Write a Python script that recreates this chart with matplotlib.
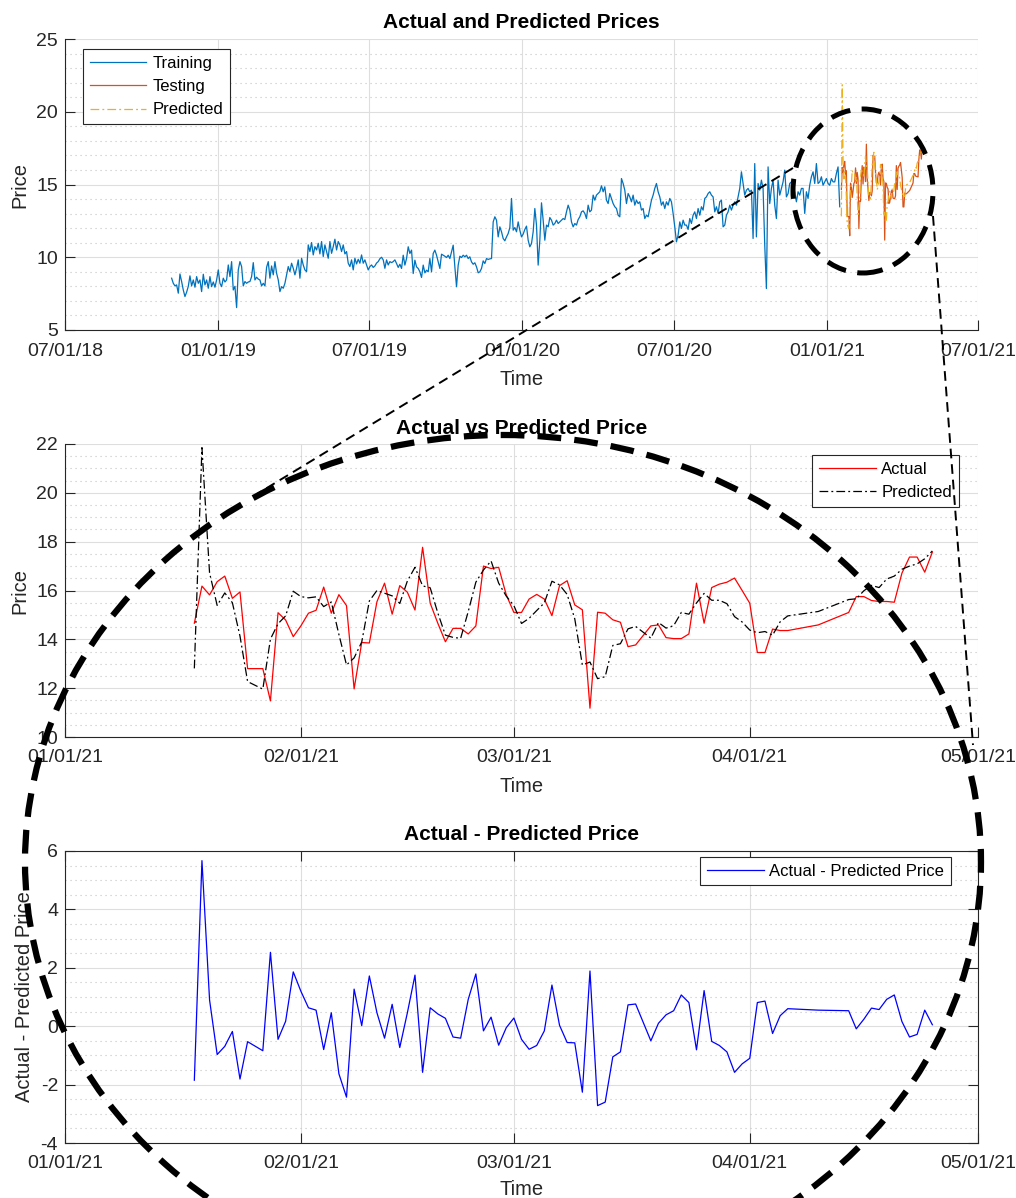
import numpy as np
import pandas as pd
import matplotlib
matplotlib.use('Agg')
import matplotlib.pyplot as plt
import matplotlib.dates as mdates
from matplotlib.patches import Ellipse
from matplotlib.lines import Line2D
from matplotlib.ticker import MultipleLocator

plt.rcParams['font.family'] = ['Liberation Sans', 'DejaVu Sans']
plt.rcParams['axes.unicode_minus'] = False

# ---- data ----
# training prices, one value every 2 days from train_start
train_start = '2018-11-06'
train_step = '2D'
train_price = [
    8.56, 8.21, 8.03, 8.10, 7.53, 8.85, 8.33, 7.75, 7.30, 7.60,
    8.00, 8.72, 8.03, 8.44, 7.94, 8.67, 8.21, 8.44, 7.64, 8.83,
    8.10, 8.44, 7.87, 8.67, 7.98, 8.30, 7.94, 8.44, 9.13, 8.21,
    7.98, 8.56, 8.30, 8.44, 9.47, 8.67, 9.70, 7.75, 8.00, 6.54,
    9.13, 9.70, 9.36, 8.03, 8.33, 8.21, 8.30, 8.33, 8.67, 9.63,
    8.44, 8.63, 8.50, 8.44, 8.03, 8.21, 8.03, 9.31, 9.70, 8.56,
    9.40, 8.79, 9.70, 8.90, 8.44, 7.64, 7.98, 7.87, 8.21, 8.79,
    9.36, 9.01, 9.59, 9.24, 8.79, 9.24, 9.82, 8.56, 9.93, 9.47,
    9.13, 9.01, 10.85, 10.39, 11.01, 10.16, 10.73, 10.50, 10.96, 10.23,
    11.08, 10.05, 10.85, 10.39, 9.93, 11.08, 10.27, 10.73, 11.24, 10.50,
    11.08, 10.85, 10.39, 10.85, 10.23, 10.39, 9.59, 9.36, 9.82, 9.13,
    9.93, 9.54, 9.86, 9.59, 10.16, 9.59, 9.82, 9.47, 9.13, 9.36,
    9.47, 9.30, 9.40, 9.60, 9.70, 9.90, 10.00, 9.82, 9.24, 9.82,
    9.47, 9.70, 9.63, 9.70, 9.82,
    9.57, 9.30, 9.52, 9.23, 10.14, 9.46, 9.91, 10.72, 10.26, 10.49,
    8.88, 9.80, 9.34, 9.23, 9.00, 8.61, 9.46, 8.93, 9.11, 9.00,
    9.91, 9.00, 10.26, 10.49, 10.14, 9.68, 9.23, 10.21, 10.14, 10.07,
    9.98, 10.14, 9.91, 10.37, 10.83, 9.34, 7.97, 9.46, 10.07, 9.98,
    10.14, 10.03, 10.14, 9.91, 10.03, 9.68, 9.52, 9.62, 9.34, 8.93,
    9.00, 9.23, 9.75, 9.57, 9.91, 9.85, 9.89, 9.91, 12.43, 12.78,
    12.55, 11.40, 12.09, 11.75, 11.29, 11.13, 11.40, 11.63, 12.04, 14.04,
    11.86, 12.04, 11.75, 12.43, 11.86, 11.40, 11.59, 11.91, 12.14, 11.17,
    10.72, 10.94, 11.75, 13.35, 12.21, 9.46, 11.17, 13.74, 12.55, 11.17,
    12.21, 12.09, 12.73, 12.55, 12.21, 12.32, 12.55, 12.32, 12.43, 12.55,
    12.66, 12.59, 13.12, 13.58, 13.24, 12.43, 12.09, 12.32, 12.21, 12.59,
    12.78, 13.12, 13.19, 13.01, 12.66, 13.58, 13.12, 13.24, 14.27, 13.92,
    14.27, 14.38, 14.50, 14.91, 14.50, 14.84, 13.92, 13.69, 14.38, 14.04,
    13.69, 13.47, 13.35, 12.89, 12.78,
    15.41, 15.07, 14.61, 13.69, 14.38, 14.15, 13.81, 14.27, 13.58, 13.92,
    13.69, 13.81, 13.24, 13.35, 12.66, 12.89, 12.78, 13.35, 13.92, 14.27,
    14.73, 15.07, 14.50, 14.15, 13.58, 13.81, 13.35, 13.81, 13.58, 14.04,
    13.81, 13.01, 12.09, 11.06, 11.52, 12.43, 11.98, 12.55, 12.21, 12.21,
    11.91, 12.66, 12.32, 12.89, 13.12, 12.66, 13.35, 12.89, 13.47, 13.24,
    14.04, 14.15, 14.38, 14.50, 14.27, 14.15, 13.12, 13.47, 13.01, 13.81,
    13.92, 12.09, 12.21, 12.89, 13.12, 13.58, 13.24, 13.58, 13.81, 13.58,
    14.15, 14.73, 15.87, 15.07, 14.27, 14.61, 14.73, 14.50, 14.61, 11.29,
    16.44, 11.40, 15.07, 14.61, 15.30, 14.73, 10.83, 7.85, 16.21, 13.69,
    14.73, 15.30, 13.58, 12.66, 15.30, 14.27, 14.73, 15.18, 15.99, 14.15,
    14.38, 15.07, 15.18, 14.73, 14.50, 13.81, 14.50, 14.27, 14.73, 14.73,
    13.01, 14.50, 14.04, 14.95, 15.53, 15.87, 15.07, 16.44, 15.07, 15.18,
    15.53, 14.95, 15.18, 15.41, 15.07, 14.95, 15.41, 15.18, 15.18, 15.76,
    16.21, 13.47,
]

# testing period: day offsets from test_start
test_start = '2021-01-01'
test_day = [17, 18, 19, 20, 21, 22, 23, 24,
            26, 27, 28, 29, 30, 31, 32, 33, 34, 35,
            36, 37, 38, 39, 40, 41, 42, 43, 44, 45,
            46, 47, 48, 49, 50, 51, 52, 53, 54, 55,
            56, 57, 58, 59, 60, 61, 62, 63, 64, 65,
            66, 67, 68, 69, 70, 71, 72, 73, 74, 75,
            77, 78, 79, 80, 81, 82, 83, 84, 85, 86,
            87, 88, 89, 90, 91, 92, 93, 94, 95,
            99,
            103, 104, 105, 106, 107, 108, 109, 110, 111, 112, 113, 114]
actual = [14.66, 16.18, 15.82, 16.36, 16.59, 15.68, 15.94, 12.80,
          12.80, 11.48, 15.09, 14.79, 14.11, 14.55, 15.07, 15.19, 16.14, 15.07,
          15.83, 15.38, 11.97, 13.87, 13.85, 15.54, 16.30, 15.03, 16.20, 15.93,
          15.20, 17.77, 15.48, 14.66, 13.90, 14.45, 14.45, 14.22, 14.55, 17.00,
          16.90, 16.95, 15.82, 15.10, 15.10, 15.65, 15.84, 15.65, 14.97, 16.20,
          16.40, 15.41, 15.21, 11.18, 15.11, 15.07, 14.80, 14.70, 13.70, 13.77,
          14.55, 14.59, 14.07, 14.03, 14.03, 14.22, 16.30, 14.66, 16.12, 16.26,
          16.34, 16.51, 16.00, 15.48, 13.46, 13.46, 14.42, 14.36, 14.36,
          14.59,
          15.10, 15.75, 15.75, 15.59, 15.55, 15.55, 15.52, 16.71, 17.37, 17.37, 16.75, 17.57]
# values of the bottom panel
price_error = [-1.85, 5.67, 0.90, -0.97, -0.69, -0.18, -1.81, -0.53,
               -0.84, 2.53, -0.45, 0.17, 1.86, 1.20, 0.63, 0.55, -0.80, 0.46,
               -1.63, -2.43, 1.27, 0.02, 1.72, 0.46, -0.41, 0.75, -0.73, 0.46,
               1.75, -1.58, 0.63, 0.42, 0.27, -0.37, -0.41, 0.92, 1.79, -0.16,
               0.31, -0.65, -0.05, 0.28, -0.45, -0.79, -0.66, -0.16, 1.41, 0.03,
               -0.56, -0.57, -2.26, 1.89, -2.72, -2.60, -1.05, -0.88, 0.73, 0.76,
               -0.50, 0.10, 0.39, 0.53, 1.07, 0.81, -0.81, 1.22, -0.52, -0.66,
               -0.88, -1.58, -1.29, -1.10, 0.81, 0.86, -0.25, 0.36, 0.60,
               0.55,
               0.53, -0.09, 0.24, 0.62, 0.57, 0.92, 1.07, 0.16, -0.37, -0.28, 0.55, 0.05]

train_dates = pd.date_range(train_start, periods=len(train_price), freq=train_step)
test_dates = pd.Timestamp(test_start) + pd.to_timedelta(test_day, unit='D')
predicted = np.array(actual) + np.array(price_error)

# ---- figure ----
W, H = 1016, 1198
fig = plt.figure(figsize=(W / 100, H / 100), dpi=100)

def px_axes(left, top, right, bottom):
    return fig.add_axes([left / W, 1 - bottom / H, (right - left) / W, (bottom - top) / H])

DARK = '#262626'

def style(ax, box=False):
    ax.set_axisbelow(True)
    ax.grid(True, which='major', color='#dedede', lw=0.8)
    ax.grid(True, which='minor', axis='y', color='#c4c4c4', lw=0.8, linestyle=(0, (1, 3.5)))
    ax.grid(False, which='minor', axis='x')
    ax.tick_params(which='major', direction='in', length=7, width=0.8, colors=DARK,
                   labelsize=14, top=box, right=box)
    ax.tick_params(axis='x', pad=9)
    ax.tick_params(axis='y', pad=5)
    ax.tick_params(which='minor', length=0)
    for s in ['top', 'right']:
        ax.spines[s].set_visible(box)
    for s in ax.spines.values():
        s.set_color(DARK)
        s.set_linewidth(0.8)

def legend(ax, loc, anchor):
    leg = ax.legend(loc=loc, bbox_to_anchor=anchor, borderaxespad=0, fontsize=12,
                    fancybox=False, edgecolor=DARK, framealpha=1, handlelength=3.4,
                    handletextpad=0.35, labelspacing=0.5, borderpad=0.4)
    leg.get_frame().set_linewidth(0.8)
    return leg

dashdot = (0, (7, 2.5, 1.5, 2.5))

# top panel
ax1 = px_axes(65, 39, 978, 330)
ax1.plot(train_dates, train_price, color='#0072BD', lw=0.9, label='Training')
ax1.plot(test_dates, actual, color='#D95319', lw=0.9, label='Testing')
ax1.plot(test_dates, predicted, color='#EDB120', lw=0.9, ls=dashdot, label='Predicted')
ax1.set_xlim(pd.Timestamp('2018-07-01'), pd.Timestamp('2021-07-01'))
ax1.xaxis.set_major_locator(mdates.MonthLocator(bymonth=[1, 7]))
ax1.xaxis.set_major_formatter(mdates.DateFormatter('%m/%d/%y'))
ax1.set_ylim(5, 25)
ax1.yaxis.set_major_locator(MultipleLocator(5))
ax1.yaxis.set_minor_locator(MultipleLocator(1))
style(ax1)
ax1.set_title('Actual and Predicted Prices', fontsize=15, fontweight='bold', pad=8)
ax1.set_xlabel('Time', fontsize=14.5, color=DARK)
ax1.set_ylabel('Price', fontsize=14.5, color=DARK)
ax1.xaxis.set_label_coords(0.5, -0.139)
ax1.yaxis.set_label_coords(-0.039, 0.5)
legend(ax1, 'upper left', (0.0197, 0.9656))

# middle panel
ax2 = px_axes(65, 444, 978, 737)
ax2.plot(test_dates, actual, color='r', lw=0.9, label='Actual')
ax2.plot(test_dates, predicted, color='k', lw=0.9, ls=dashdot, label='Predicted')
ax2.set_xlim(pd.Timestamp('2021-01-01'), pd.Timestamp('2021-05-01'))
ax2.xaxis.set_major_locator(mdates.MonthLocator(bymonthday=1))
ax2.xaxis.set_major_formatter(mdates.DateFormatter('%m/%d/%y'))
ax2.set_ylim(10, 22)
ax2.yaxis.set_major_locator(MultipleLocator(2))
ax2.yaxis.set_minor_locator(MultipleLocator(0.5))
style(ax2)
ax2.set_title('Actual vs Predicted Price', fontsize=15, fontweight='bold', pad=7)
ax2.set_xlabel('Time', fontsize=14.5, color=DARK)
ax2.set_ylabel('Price', fontsize=14.5, color=DARK)
ax2.xaxis.set_label_coords(0.5, -0.135)
ax2.yaxis.set_label_coords(-0.039, 0.5)
legend(ax2, 'upper right', (0.979, 0.9625))

# bottom panel
ax3 = px_axes(65, 851, 978, 1143)
ax3.plot(test_dates, price_error, color='b', lw=0.9, label='Actual - Predicted Price')
ax3.set_xlim(pd.Timestamp('2021-01-01'), pd.Timestamp('2021-05-01'))
ax3.xaxis.set_major_locator(mdates.MonthLocator(bymonthday=1))
ax3.xaxis.set_major_formatter(mdates.DateFormatter('%m/%d/%y'))
ax3.set_ylim(-4, 6)
ax3.yaxis.set_major_locator(MultipleLocator(2))
ax3.yaxis.set_minor_locator(MultipleLocator(0.5))
style(ax3, box=True)
ax3.set_title('Actual - Predicted Price', fontsize=15, fontweight='bold', pad=8)
ax3.set_xlabel('Time', fontsize=14.5, color=DARK)
ax3.set_ylabel('Actual - Predicted Price', fontsize=14.5, color=DARK)
ax3.xaxis.set_label_coords(0.5, -0.126)
ax3.yaxis.set_label_coords(-0.0345, 0.5)
legend(ax3, 'upper right', (0.9704, 0.979))

# zoom annotation drawn over the figure (pixel positions)
def fx(x):
    return x / W

def fy(y):
    return 1 - y / H

fig.add_artist(Ellipse((fx(863), fy(191)), 2 * 70 / W, 2 * 82 / H, transform=fig.transFigure,
                       fill=False, ec='k', lw=3.6, ls=(0, (4, 2.3))))
fig.add_artist(Ellipse((fx(503), fy(862)), 2 * 478 / W, 2 * 427 / H, transform=fig.transFigure,
                       fill=False, ec='k', lw=4.5, ls=(0, (3.8, 2.1))))
fig.add_artist(Line2D([fx(793), fx(257)], [fy(168), fy(494)], transform=fig.transFigure,
                      color='k', lw=1.4, ls=(0, (5, 3))))
fig.add_artist(Line2D([fx(933), fx(973)], [fy(216), fy(745)], transform=fig.transFigure,
                      color='k', lw=1.4, ls=(0, (5, 3))))

fig.savefig('out.png', dpi=100)
